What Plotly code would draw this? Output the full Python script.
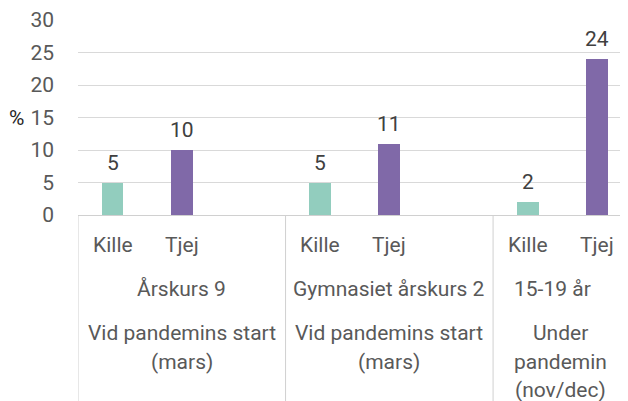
import plotly.graph_objects as go

# ---- data ----
groups = ["Årskurs 9", "Gymnasiet årskurs 2", "15-19 år"]
periods = [["Vid pandemins start", "(mars)"],
           ["Vid pandemins start", "(mars)"],
           ["Under", "pandemin", "(nov/dec)"]]
genders = ["Kille", "Tjej"]
kille_values = [5, 5, 2]
tjej_values = [10, 11, 24]
y_ticks = [0, 5, 10, 15, 20, 25, 30]

TEAL = "#92CDBE"
PURPLE = "#8069A8"
FONT = "Roboto"
FS = 21

# slot layout: each group has Kille, Tjej, (blank) slots; last group has no blank slot
slots_per_group = [3, 3, 2]
starts = []
s = 0
for n in slots_per_group:
    starts.append(s)
    s += n
x_min, x_max = -0.5, s - 0.55

kille_x = [st for st in starts]
tjej_x = [st + 1 for st in starts]

fig = go.Figure()
annotations = []
for xs, vals, col, name in [(kille_x, kille_values, TEAL, "Kille"),
                            (tjej_x, tjej_values, PURPLE, "Tjej")]:
    fig.add_trace(go.Bar(
        x=xs, y=vals, width=0.314, marker_color=col, marker_line_width=0,
        name=name))
    for xx, v in zip(xs, vals):
        annotations.append(dict(x=xx, y=v, xref="x", yref="y", text=str(v),
                                showarrow=False, yanchor="middle", yshift=20,
                                font=dict(family=FONT, size=FS, color="#404040")))

label_font = dict(family=FONT, size=FS, color="#595959")
# row 1: gender labels
for kx, tx in zip(kille_x, tjej_x):
    for xx, g in zip([kx, tx], genders):
        annotations.append(dict(x=xx, y=0, xref="x", yref="paper", text=g,
                                showarrow=False, yanchor="middle", yshift=-30,
                                font=label_font))
# rows 2 and 3: group and period labels
bounds = [st - 0.5 for st in starts] + [x_max]
for i, (grp, per) in enumerate(zip(groups, periods)):
    left = bounds[i]
    right = bounds[i + 1]
    center = (left + right) / 2
    gx = center if i < len(groups) - 1 else center - 0.12
    annotations.append(dict(x=gx, y=0, xref="x", yref="paper", text=grp,
                            showarrow=False, yanchor="middle", yshift=-74,
                            font=label_font))
    for k, line in enumerate(per):
        annotations.append(dict(x=center, y=0, xref="x", yref="paper", text=line,
                                showarrow=False, yanchor="middle",
                                yshift=-118 - 28.5 * k, font=label_font))
annotations.append(dict(x=0, y=15, xref="paper", yref="y", text="%",
                        showarrow=False, xanchor="center", xshift=-62,
                        font=dict(family=FONT, size=FS, color="#262626")))

shapes = []
for b in bounds[:-1]:
    shapes.append(dict(type="line", x0=b, x1=b, xref="x", yref="paper",
                       y0=0, y1=-1.0, line=dict(color="#D0D0D0", width=1)))

# page body has an 8px margin; compensate so the plot area sits at x 78..628, y 20..215
fig.update_layout(
    width=620, height=393,
    margin=dict(l=70, r=0, t=12, b=186),
    plot_bgcolor="white", paper_bgcolor="white",
    showlegend=False, bargap=0,
    font=dict(family=FONT, size=FS, color="#595959"),
    annotations=annotations, shapes=shapes,
    xaxis=dict(range=[x_min, x_max], showticklabels=False, showgrid=False,
               zeroline=False, showline=True, linecolor="#D0D0D0", linewidth=1,
               ticks=""),
    yaxis=dict(range=[0, 30], tickvals=y_ticks, showgrid=True,
               gridcolor="#D9D9D9", gridwidth=1, zeroline=False,
               ticks="", ticklabelstandoff=23,
               tickfont=dict(family=FONT, size=FS, color="#595959")),
)

fig.write_html("out.html")
